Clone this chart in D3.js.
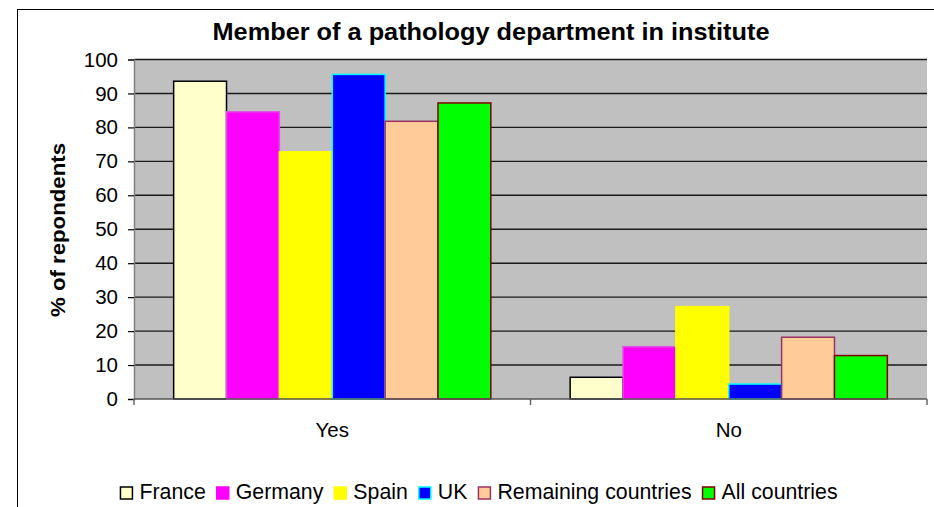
<!DOCTYPE html>
<html>
<head>
<meta charset="utf-8">
<script src="https://cdn.jsdelivr.net/npm/d3@7"></script>
<style>
  html, body { margin: 0; padding: 0; background: #fff; }
  svg { display: block; font-family: "Liberation Sans", Arial, sans-serif; }
</style>
</head>
<body>
<svg id="chart" width="934" height="507"></svg>
<script>
const title = "Member of a pathology department in institute";
const yTitle = "% of repondents";
const categories = ["Yes", "No"];
const seriesNames = ["France", "Germany", "Spain", "UK", "Remaining countries", "All countries"];
const yesValues = [93.6, 84.6, 72.8, 95.6, 81.8, 87.2];
const noValues = [6.4, 15.4, 27.2, 4.4, 18.2, 12.8];
const yTicks = [0, 10, 20, 30, 40, 50, 60, 70, 80, 90, 100];
const fills = ["#FFFFCC", "#FF00FF", "#FFFF00", "#0000FF", "#FFCC99", "#00FF00"];
const strokes = ["#000000", "#E050E0", "#FFFF00", "#00FFFF", "#993366", "#800000"];

const valuesByCat = { "Yes": yesValues, "No": noValues };

const svg = d3.select("#chart");
const pLeft = 134, pRight = 927, pTop = 59.5, pBottom = 399;

// outer chart border
svg.append("rect").attr("x", 17.5).attr("y", 9.5).attr("width", 1000).attr("height", 600)
  .attr("fill", "#fff").attr("stroke", "#000").attr("stroke-width", 1);

const x0 = d3.scaleBand().domain(categories).range([pLeft, pRight]).paddingInner(0).paddingOuter(0);
const bw = x0.bandwidth();
const x1 = d3.scaleBand().domain(seriesNames).range([bw * 0.1, bw * 0.9]).padding(0);
const y = d3.scaleLinear().domain([0, 100]).range([pBottom, pTop]);

// plot background
svg.append("rect").attr("x", pLeft).attr("y", pTop).attr("width", pRight - pLeft).attr("height", pBottom - pTop)
  .attr("fill", "#C0C0C0");

// gridlines
svg.append("g").selectAll("line").data(yTicks.filter(d => d > 0)).join("line")
  .attr("x1", pLeft).attr("x2", pRight)
  .attr("y1", d => y(d)).attr("y2", d => y(d))
  .attr("stroke", "#1a1a1a").attr("stroke-width", 1.4);

// bars
const groups = svg.append("g").selectAll("g").data(categories).join("g")
  .attr("transform", c => `translate(${x0(c)},0)`);
groups.selectAll("rect").data(c => seriesNames.map((s, i) => ({ s, i, v: valuesByCat[c][i] }))).join("rect")
  .attr("x", d => x1(d.s))
  .attr("width", x1.bandwidth())
  .attr("y", d => y(d.v))
  .attr("height", d => y(0) - y(d.v))
  .attr("fill", d => fills[d.i])
  .attr("stroke", d => strokes[d.i])
  .attr("stroke-width", 1.5);

// y axis
const yAxis = d3.axisLeft(y).tickValues(yTicks).tickSize(6).tickPadding(10);
const gy = svg.append("g").attr("transform", `translate(${pLeft},0)`).call(yAxis);
gy.select(".domain").attr("stroke", "#808080").attr("stroke-width", 1.5);
gy.selectAll(".tick line").attr("stroke", "#000").attr("stroke-width", 1.2);
gy.selectAll(".tick text").attr("font-size", 20.5).attr("fill", "#000")
  .attr("font-family", "Liberation Sans, Arial, sans-serif");

// x axis
const gx = svg.append("g").attr("transform", `translate(0,${pBottom})`);
gx.append("line").attr("x1", pLeft).attr("x2", pRight).attr("y1", 0).attr("y2", 0)
  .attr("stroke", "#555").attr("stroke-width", 1.5);
const boundaries = [x0(categories[0]), x0(categories[1]), x0(categories[1]) + bw];
gx.selectAll("line.t").data(boundaries).join("line").attr("class", "t")
  .attr("x1", d => d).attr("x2", d => d).attr("y1", 0).attr("y2", 6)
  .attr("stroke", "#666").attr("stroke-width", 1.5);
gx.selectAll("text").data(categories).join("text")
  .attr("x", c => x0(c) + bw / 2).attr("y", 38)
  .attr("text-anchor", "middle").attr("font-size", 20.5).attr("fill", "#000")
  .text(c => c);

// title
svg.append("text").attr("x", 491).attr("y", 40).attr("text-anchor", "middle")
  .attr("font-size", 23.5).attr("font-weight", "bold")
  .attr("textLength", 557).attr("lengthAdjust", "spacingAndGlyphs").text(title);

// y title
svg.append("text").attr("transform", "translate(65,230) rotate(-90)")
  .attr("text-anchor", "middle").attr("font-size", 21).attr("font-weight", "bold")
  .attr("textLength", 174).attr("lengthAdjust", "spacingAndGlyphs").text(yTitle);

// legend
const legend = svg.append("g");
let lx = 0;
seriesNames.forEach((s, i) => {
  const g = legend.append("g");
  g.append("rect").attr("x", 0).attr("y", -12).attr("width", 12).attr("height", 12)
    .attr("fill", fills[i]).attr("stroke", i === 1 || i === 2 ? fills[i] : strokes[i]).attr("stroke-width", 1.5);
  const t = g.append("text").attr("x", 19).attr("y", 0).attr("font-size", 21.3).text(s);
  const w = 19 + t.node().getComputedTextLength();
  g.attr("transform", `translate(${lx},0)`);
  lx += w + 11;
});
const totalW = lx - 11;
legend.attr("transform", `translate(${479 - totalW / 2},499)`);
</script>
</body>
</html>
